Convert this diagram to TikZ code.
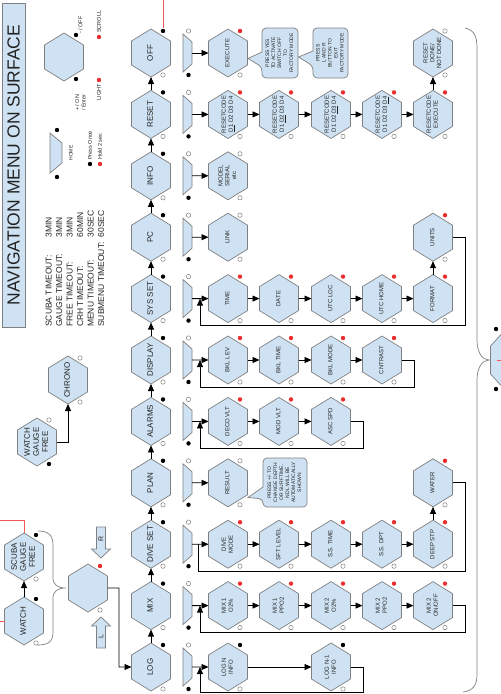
\documentclass[tikz,border=0pt]{standalone}
\usepackage{fontspec}
\setmainfont{Liberation Sans}
\usepackage{graphicx}
\usetikzlibrary{arrows.meta}
\definecolor{hexfill}{RGB}{207,226,243}
\definecolor{hexline}{RGB}{128,128,128}
\definecolor{dotred}{RGB}{235,45,45}
\definecolor{redln}{RGB}{240,90,90}
\definecolor{txt}{RGB}{35,35,35}
\newcommand\mainf{\fontsize{8}{9}\selectfont}
\newcommand\subf{\fontsize{6}{6.8}\selectfont}
\newcommand\callf{\fontsize{5}{6}\selectfont}
\newcommand\legf{\fontsize{5.5}{6.5}\selectfont}
\newcommand\rtab[1]{\rotatebox{90}{\begin{tabular}{@{}c@{}}#1\end{tabular}}}
\newcommand\hexn[5][\subf]{%
  \path[hexshape] (#3,#4) ++(0,-24) -- ++(19.5,12) -- ++(0,24) -- ++(-19.5,12) -- ++(-19.5,-12) -- ++(0,-24) -- cycle;
  \node[hexbox] (#2) at (#3,#4) {#1\rtab{#5}};}
\newcommand\dts[3]{%
  \path[#2] ([shift={(12,-22)}]#1.center) circle (2.2pt);
  \path[#3] ([shift={(12,22)}]#1.center) circle (2.2pt);}
\newcommand\trapn[3]{%
  \path[hexshape] (#2,#3) ++(0,-19) -- ++(9,8) -- ++(0,22) -- ++(-9,8) -- cycle;
  \node[inner sep=0,outer sep=0,minimum width=9,minimum height=22] (#1) at ({#2+4.5},#3) {};
  \path[O] ({#2+5.5},{#3-22}) circle (2.2pt);
  \path[B] ({#2+5.5},{#3+22}) circle (2.2pt);}
\tikzset{
  hexshape/.style={fill=hexfill, draw=hexline, line width=0.7},
  hexbox/.style={rectangle, minimum width=39, minimum height=48, inner sep=0, outer sep=0, text=txt},
  conn/.style={draw=black, line width=0.8},
  arr/.style={conn, -{Triangle[length=7,width=6]}},
  B/.style={fill=black},
  R/.style={fill=dotred},
  O/.style={fill=white, draw=hexline, line width=0.5},
  redline/.style={draw=redln, line width=0.8},
  brace/.style={draw=hexline, line width=0.7},
  rtxt/.style={rotate=90, inner sep=0, text=txt},
}
\begin{document}
\begin{tikzpicture}[x=1pt,y=-1pt]
\fill[white] (0,0) rectangle (501,694);
\useasboundingbox (0,0) rectangle (501,694);

% title and legend
\path[hexshape] (2,3) rectangle (25,327);
\node[rtxt] (ttl) at (13.5,165) {\fontsize{17.5}{20}\selectfont NAVIGATION MENU ON SURFACE};
\node[rtxt, anchor=north west] (tmo) at (44,327) {\fontsize{8.5}{10.5}\selectfont
  \begin{tabular}{@{}l@{\hspace{5pt}}l@{}}SCUBA TIMEOUT: & 3MIN\\GAUGE TIMEOUT: & 3MIN\\FREE TIMEOUT: & 3MIN\\CRH TIMEOUT: & 60MIN\\MENU TIMEOUT: & 30SEC\\SUBMENU TIMEOUT: & 60SEC\end{tabular}};
\hexn{lg}{64}{57}{}
\dts{lg}{B}{B}
\node[rtxt, anchor=west, font=\legf] (loff) at (80.5,34) {- / OFF};
\node[rtxt, anchor=north west, align=left, font=\legf] (lon) at (75,111) {+ / ON\\/ Enter};
\path[R] (99,37) circle (2.2pt);
\node[rtxt, anchor=west, font=\legf] (lscr) at (99,33) {SCROLL};
\path[R] (99,80) circle (2.2pt);
\node[rtxt, anchor=east, font=\legf] (llig) at (99,84) {LIGHT};
\path[hexshape] (50,133) -- (62,143) -- (62,163) -- (50,173) -- cycle;
\path[B] (57,130) circle (2.2pt);
\path[B] (57,177) circle (2.2pt);
\node[rtxt, font=\fontsize{5}{6}\selectfont] (lhome) at (71,153) {HOME};
\path[B] (90,164) circle (2.2pt);
\node[rtxt, anchor=west, font=\legf] (lpo) at (90,160) {Press Once};
\path[R] (100,164) circle (2.2pt);
\node[rtxt, anchor=west, font=\legf] (lh2) at (100,160) {Hold 2 sec};

% main column
\foreach \lab [count=\i from 0] in {OFF,RESET,INFO,PC,SYS SET,DISPLAY,ALARMS,PLAN,DIVE SET,MIX,LOG}{
  \pgfmathsetmacro\yy{53+61.4*\i}
  \hexn[\mainf]{m\i}{151}{\yy}{\lab}
  \dts{m\i}{B}{O}
  \trapn{t\i}{183}{\yy}
  \coordinate (j\i) at (200,\yy);
}
\foreach \i in {0,...,9}{\pgfmathtruncatemacro\j{\i+1}\draw[arr] (m\j.north) -- (m\i.south);}

% sub menus
\hexn{s0a}{228}{53}{EXECUTE} \dts{s0a}{R}{O}
\hexn{s0e}{433}{53}{RESET\\DONE/\\NOT DONE} \dts{s0e}{O}{O}
\hexn{s1a}{228}{114.4}{RESETCODE\\\underline{D1} D2 D3 D4} \dts{s1a}{R}{O}
\hexn{s1b}{279}{114.4}{RESETCODE\\D1 \underline{D2} D3 D4} \dts{s1b}{R}{O}
\hexn{s1c}{331}{114.4}{RESETCODE\\D1 D2 \underline{D3} D4} \dts{s1c}{R}{O}
\hexn{s1d}{382}{114.4}{RESETCODE\\D1 D2 D3 \underline{D4}} \dts{s1d}{R}{O}
\hexn{s1e}{433}{114.4}{RESETCODE\\EXECUTE} \dts{s1e}{R}{O}
\hexn{s2a}{228}{175.8}{MODEL\\SERIAL\\etc} \dts{s2a}{O}{O}
\hexn{s3a}{228}{237.2}{LINK} \dts{s3a}{O}{O}
\hexn{s3e}{433}{237.2}{UNITS} \dts{s3e}{R}{O}
\hexn{s4a}{228}{298.6}{TIME} \dts{s4a}{R}{O}
\hexn{s4b}{279}{298.6}{DATE} \dts{s4b}{R}{O}
\hexn{s4c}{331}{298.6}{UTC LOC} \dts{s4c}{R}{O}
\hexn{s4d}{382}{298.6}{UTC HOME} \dts{s4d}{R}{O}
\hexn{s4e}{433}{298.6}{FORMAT} \dts{s4e}{R}{O}
\hexn{s5a}{228}{360}{BKL LEV} \dts{s5a}{R}{O}
\hexn{s5b}{279}{360}{BKL TIME} \dts{s5b}{R}{O}
\hexn{s5c}{331}{360}{BKL MODE} \dts{s5c}{R}{O}
\hexn{s5d}{382}{360}{CNTRAST} \dts{s5d}{R}{O}
\hexn{s6a}{228}{421.4}{DECO VLT} \dts{s6a}{R}{O}
\hexn{s6b}{279}{421.4}{MOD VLT} \dts{s6b}{R}{O}
\hexn{s6c}{331}{421.4}{ASC SPD} \dts{s6c}{R}{O}
\hexn{s7a}{228}{482.8}{RESULT} \dts{s7a}{O}{O}
\hexn{s7e}{433}{482.8}{WATER} \dts{s7e}{R}{O}
\hexn{s8a}{228}{544.2}{DIVE\\MODE} \dts{s8a}{R}{O}
\hexn{s8b}{279}{544.2}{SFT LEVEL} \dts{s8b}{R}{O}
\hexn{s8c}{331}{544.2}{S.S. TIME} \dts{s8c}{R}{O}
\hexn{s8d}{382}{544.2}{S.S. DPT} \dts{s8d}{R}{O}
\hexn{s8e}{433}{544.2}{DEEP STP} \dts{s8e}{R}{O}
\hexn{s9a}{228}{605.6}{MIX 1\\O2\%} \dts{s9a}{R}{O}
\hexn{s9b}{279}{605.6}{MIX 1\\PPO2} \dts{s9b}{R}{O}
\hexn{s9c}{331}{605.6}{MIX 2\\O2\%} \dts{s9c}{R}{O}
\hexn{s9d}{382}{605.6}{MIX 2\\PPO2} \dts{s9d}{R}{O}
\hexn{s9e}{433}{605.6}{MIX 2\\ON/OFF} \dts{s9e}{R}{O}
\hexn{s10a}{228}{667}{LOG N\\INFO} \dts{s10a}{B}{O}
\hexn{s10c}{331}{667}{LOG N-1\\INFO} \dts{s10c}{B}{O}

% entry arrows
\draw[arr] (t0.east) -- (s0a.west);
\draw[arr] (t1.east) -- (s1a.west);
\draw[arr] (t2.east) -- (s2a.west);
\draw[arr] (t3.east) -- (s3a.west);
\draw[arr] (t4.east) -- (s4a.west);
\draw[arr] (t5.east) -- (s5a.west);
\draw[arr] (t6.east) -- (s6a.west);
\draw[arr] (t7.east) -- (s7a.west);
\draw[arr] (t8.east) -- (s8a.west);
\draw[arr] (t9.east) -- (s9a.west);
\draw[arr] (t10.east) -- (s10a.west);

% row chains
\draw[arr] (s1a.east) -- (s1b.west);
\draw[arr] (s1b.east) -- (s1c.west);
\draw[arr] (s1c.east) -- (s1d.west);
\draw[arr] (s1d.east) -- (s1e.west);
\draw[arr] (s1e.north) -- (s0e.south);
\draw[arr] (s4a.east) -- (s4b.west);
\draw[arr] (s4b.east) -- (s4c.west);
\draw[arr] (s4c.east) -- (s4d.west);
\draw[arr] (s4d.east) -- (s4e.west);
\draw[arr] (s4e.north) -- (s3e.south);
\draw[arr] (s5a.east) -- (s5b.west);
\draw[arr] (s5b.east) -- (s5c.west);
\draw[arr] (s5c.east) -- (s5d.west);
\draw[arr] (s6a.east) -- (s6b.west);
\draw[arr] (s6b.east) -- (s6c.west);
\draw[arr] (s8a.east) -- (s8b.west);
\draw[arr] (s8b.east) -- (s8c.west);
\draw[arr] (s8c.east) -- (s8d.west);
\draw[arr] (s8d.east) -- (s8e.west);
\draw[arr] (s8e.north) -- (s7e.south);
\draw[arr] (s9a.east) -- (s9b.west);
\draw[arr] (s9b.east) -- (s9c.west);
\draw[arr] (s9c.east) -- (s9d.west);
\draw[arr] (s9d.east) -- (s9e.west);
\draw[arr] (s10a.east) -- (s10c.west);

% return loops
\draw[arr] (s3e.east) -- (465,237.2) -- (465,325) -- (200,325) -- (j4);
\draw[arr] (s5d.east) -- (414,360) -- (414,387) -- (200,387) -- (j5);
\draw[arr] (s6c.east) -- (363,421.4) -- (363,448) -- (200,448) -- (j6);
\coordinate (j8b) at (198,544.2);
\draw[conn] (s7e.east) -- (465,482.8) -- (465,571) -- (198,571) -- (j8b);
\draw[arr] (s9e.east) -- (465,605.6) -- (465,632) -- (200,632) -- (j9);
\draw[arr] (s10c.east) -- (363,667) -- (363,692.5) -- (200,692.5) -- (j10);

% callouts
\filldraw[hexshape] (280,28) [rounded corners=4] -- (298,28) -- (298,78) -- (262,78) -- (262,67) [sharp corners] -- (248,58.5) -- (262,52) [rounded corners=4] -- (262,28) -- cycle;
\node[inner sep=0, text=txt] (co1) at (280,53) {\callf\rtab{PRESS YES\\TO ACTIVATE\\SWITCH OFF\\TO\\FACTORY MODE}};
\filldraw[hexshape] (330,28) [rounded corners=4] -- (348,28) -- (348,78) -- (313,78) -- (313,66) [sharp corners] -- (298.5,57) -- (313,51) [rounded corners=4] -- (313,28) -- cycle;
\node[inner sep=0, text=txt] (co2) at (330.5,53) {\callf\rtab{PRESS\\L AND R\\BUTTON TO\\EXIT\\FACTORY MODE}};
\filldraw[hexshape] (285,458) [rounded corners=4] -- (307,458) -- (307,507) -- (263,507) -- (263,499) [sharp corners] -- (248,497.5) -- (263,487) [rounded corners=4] -- (263,458) -- cycle;
\node[inner sep=0, text=txt] (co3) at (285,482.5) {\callf\rtab{PRESS +/- TO\\CHANGE DEPTH\\OR SURFTIME.\\NDL WILL BE\\AUTOMATICALLY\\SHOWN}};

% left cluster
\hexn[\mainf]{watch}{24}{621}{WATCH} \dts{watch}{B}{O}
\hexn[\mainf]{scuba}{24}{557}{SCUBA\\GAUGE\\FREE} \dts{scuba}{B}{O}
\hexn{ctr}{88}{588}{} \dts{ctr}{R}{O}
\hexn[\mainf]{wgf}{37}{442}{WATCH\\GAUGE\\FREE} \dts{wgf}{O}{B}
\hexn[\mainf]{chrono}{68}{380}{CHRONO} \dts{chrono}{O}{O}
\draw[arr] (watch.north) -- (scuba.south);
\draw[arr] (ctr.east) -- (119,588) -- (119,667) -- (m10.west);
\draw[arr] (wgf.east) -- (68,442) -- (chrono.south);
\path[hexshape] (96.5,527) -- (105.5,527) -- (105.5,549) -- (110.5,549) -- (101,558) -- (91.5,549) -- (96.5,549) -- cycle;
\node[rtxt] (rlab) at (101,539) {\fontsize{7}{8}\selectfont R};
\path[hexshape] (96.5,648) -- (105.5,648) -- (105.5,626) -- (110.5,626) -- (101,617) -- (91.5,626) -- (96.5,626) -- cycle;
\node[rtxt] (llab) at (101,637) {\fontsize{7}{8}\selectfont L};
\draw[brace] (38,531) .. controls (48,531) and (53,535) .. (53,545) -- (53,578) .. controls (53,585) and (58,588) .. (66,588) .. controls (58,588) and (53,591) .. (53,598) -- (53,632) .. controls (53,642) and (48,645) .. (37,645);

% right side
\draw[brace] (465,28) .. controls (474,30) and (477,36) .. (477,48) -- (477,340) .. controls (477,352) and (482,360) .. (489,360) .. controls (482,360) and (477,368) .. (477,380) -- (477,675) .. controls (477,686) and (472,691) .. (463,692);
\path[hexshape] (490.5,346) -- (501.5,334) -- (501.5,386) -- (490.5,374) -- cycle;
\path[B] (496,329) circle (2.2pt);
\path[B] (496,389) circle (2.2pt);
\draw[redline] (497,360) -- (501,360);

% red lines
\draw[redline] (scuba.north) -- (24,520) -- (0,520);
\draw[redline] (0,621) -- (watch.west);
\draw[redline] (163,0) -- (163,28);
\end{tikzpicture}
\end{document}
